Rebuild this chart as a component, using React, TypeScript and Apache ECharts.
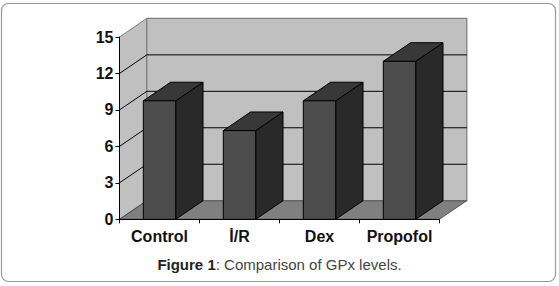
import React, { useEffect, useRef } from "react";
import * as echarts from "echarts";

const categories = ["Control", "İ/R", "Dex", "Propofol"];
const gpxValues = [9.75, 7.3, 9.75, 13];
const yTicks = [3, 6, 9, 12, 15];
const floorSegments = [0];

const DX = 27.3;
const DY = -18.6;
const FONT = '"Liberation Sans", Arial, sans-serif';

export default function App() {
  const ref = useRef<HTMLDivElement>(null);
  useEffect(() => {
    document.body.style.margin = "0";
    document.body.style.background = "#fff";
    const chart = echarts.init(ref.current!, null, { renderer: "svg" });
    const frontX = (api: any) => {
      const p = api.coord([0, 0]);
      const band = api.size([1, 0])[0];
      return { left: p[0] - band / 2, right: p[0] + band * 3.5 };
    };
    chart.setOption({
      animation: false,
      backgroundColor: "#fff",
      graphic: [
        {
          type: "rect",
          z: -1,
          silent: true,
          shape: { x: 1.5, y: 3.5, width: 554, height: 278, r: 7 },
          style: { fill: "#fff", stroke: "#999", lineWidth: 1.2 },
        },
      ],
      title: {
        text: "{b|Figure 1}{n|: Comparison of GPx levels.}",
        left: 279.5,
        textAlign: "center",
        top: 257,
        padding: 0,
        textStyle: {
          fontWeight: "normal",
          rich: {
            b: { fontFamily: FONT, fontSize: 15, fontWeight: "bold", color: "#222" },
            n: { fontFamily: FONT, fontSize: 15, fontWeight: "normal", color: "#444" },
          },
        },
      },
      grid: { left: 119.5, top: 37, width: 320, height: 182.3 },
      xAxis: {
        type: "category",
        data: categories,
        z: 10,
        axisLine: { lineStyle: { color: "#000", width: 1 } },
        axisTick: { show: true, length: 4, alignWithLabel: false, lineStyle: { color: "#000" } },
        axisLabel: {
          interval: 0,
          margin: 9,
          fontFamily: FONT,
          fontSize: 16,
          fontWeight: "bold",
          color: "#111",
        },
      },
      yAxis: {
        type: "value",
        min: 0,
        max: 15,
        interval: 3,
        z: 10,
        splitLine: { show: false },
        axisLine: { show: true, lineStyle: { color: "#000", width: 1 } },
        axisTick: { show: true, length: 4, lineStyle: { color: "#000" } },
        axisLabel: {
          margin: 6,
          fontFamily: FONT,
          fontSize: 16,
          fontWeight: "bold",
          color: "#111",
        },
      },
      series: [
        {
          type: "custom",
          silent: true,
          z: 1,
          data: floorSegments,
          renderItem: (_: any, api: any) => {
            const { left, right } = frontX(api);
            const y0 = api.coord([0, 0])[1];
            const yT = api.coord([0, 15])[1];
            const edge = { stroke: "#808080", lineWidth: 1 };
            return {
              type: "group",
              children: [
                {
                  type: "polygon",
                  shape: { points: [[left, y0], [left + DX, y0 + DY], [left + DX, yT + DY], [left, yT]] },
                  style: { fill: "#c0c0c0", ...edge },
                },
                {
                  type: "polygon",
                  shape: { points: [[left + DX, y0 + DY], [right + DX, y0 + DY], [right + DX, yT + DY], [left + DX, yT + DY]] },
                  style: { fill: "#c0c0c0", ...edge, lineWidth: 1.3 },
                },
                {
                  type: "polygon",
                  shape: { points: [[left, y0], [right, y0], [right + DX, y0 + DY], [left + DX, y0 + DY]] },
                  style: { fill: "#808080", stroke: "#000", lineWidth: 0.5 },
                },
                {
                  type: "line",
                  shape: { x1: left + DX, y1: y0 + DY, x2: right + DX, y2: y0 + DY },
                  style: { stroke: "#666", lineWidth: 1.2 },
                },
              ],
            };
          },
        },
        {
          type: "custom",
          silent: true,
          z: 2,
          data: yTicks.filter((t) => t < 15),
          encode: { y: 0 },
          renderItem: (_: any, api: any) => {
            const { left, right } = frontX(api);
            const y = api.coord([0, api.value(0)])[1];
            const line = { stroke: "#000", lineWidth: 1 };
            return {
              type: "group",
              children: [
                { type: "line", shape: { x1: left, y1: y, x2: left + DX, y2: y + DY }, style: line },
                { type: "line", shape: { x1: left + DX, y1: y + DY, x2: right + DX, y2: y + DY }, style: line },
              ],
            };
          },
        },
        {
          type: "custom",
          silent: true,
          z: 3,
          data: gpxValues.map((v, i) => [i, v]),
          encode: { x: 0, y: 1 },
          renderItem: (_: any, api: any) => {
            const i = api.value(0);
            const v = api.value(1);
            const top = api.coord([i, v]);
            const base = api.coord([i, 0]);
            const w = api.size([1, 0])[0] * 0.405;
            const l = top[0] - w / 2;
            const r = top[0] + w / 2;
            const edge = { stroke: "#000", lineWidth: 1 };
            return {
              type: "group",
              children: [
                {
                  type: "polygon",
                  shape: { points: [[r, base[1]], [r + DX, base[1] + DY], [r + DX, top[1] + DY], [r, top[1]]] },
                  style: { fill: "#292929", ...edge },
                },
                {
                  type: "polygon",
                  shape: { points: [[l, top[1]], [l + DX, top[1] + DY], [r + DX, top[1] + DY], [r, top[1]]] },
                  style: { fill: "#383838", ...edge },
                },
                {
                  type: "rect",
                  shape: { x: l, y: top[1], width: w, height: base[1] - top[1] },
                  style: { fill: "#4d4d4d", ...edge },
                },
              ],
            };
          },
        },
      ],
    });
    return () => chart.dispose();
  }, []);
  return <div ref={ref} style={{ width: 559, height: 286 }} />;
}
